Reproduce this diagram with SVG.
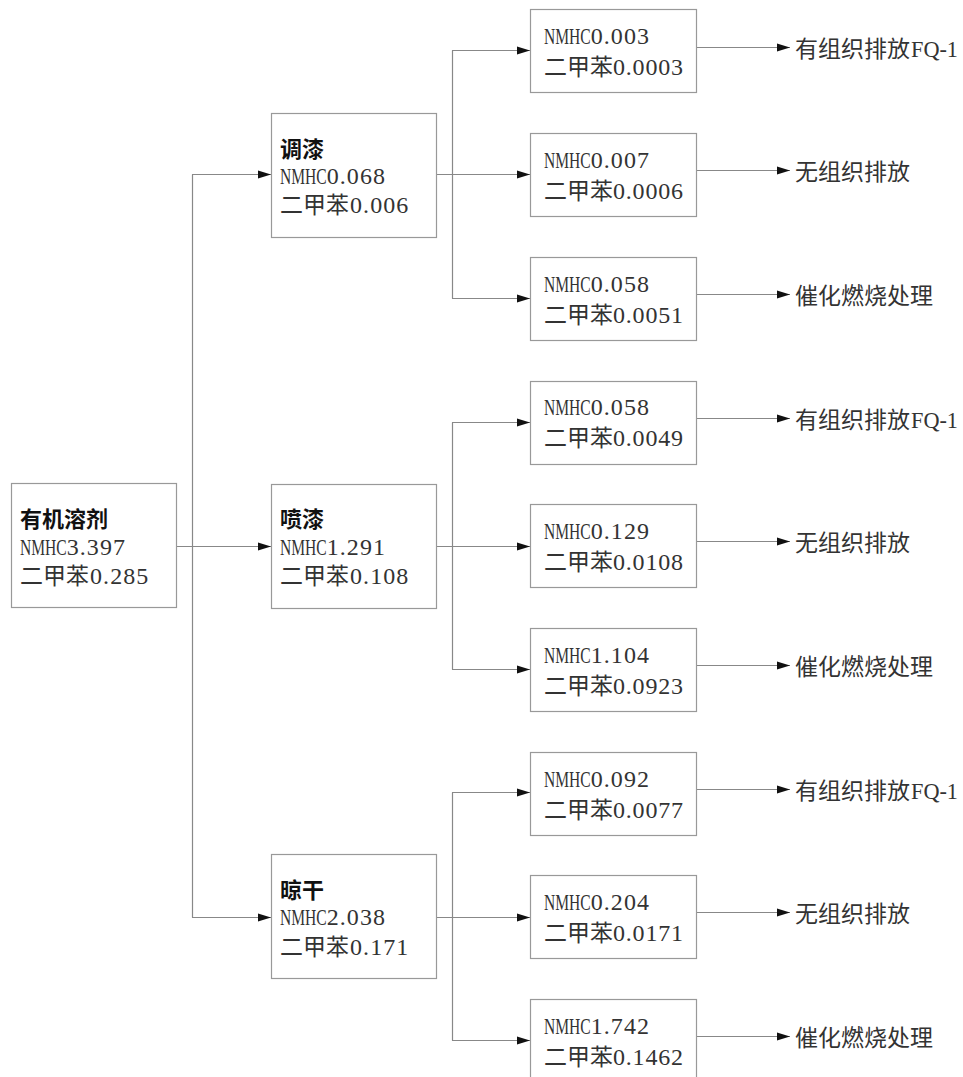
<svg xmlns="http://www.w3.org/2000/svg" width="963" height="1077" viewBox="0 0 963 1077">
<style>
.box{fill:#fff;stroke:#999;stroke-width:1.2}
.t{font-family:"Liberation Serif","Noto Sans CJK SC",serif;font-size:24px;fill:#333}
.k{font-family:"Noto Sans CJK SC",sans-serif;font-size:23px}
.h{font-family:"Noto Sans CJK SC",sans-serif;font-size:22px;font-weight:bold;fill:#111}
.c{fill:none;stroke:#888;stroke-width:1.2}
.a{marker-end:url(#arr)}
</style>
<defs>
<marker id="arr" markerUnits="userSpaceOnUse" markerWidth="14" markerHeight="9" refX="13" refY="4.5" orient="auto">
<path d="M0,0.5 L13,4.5 L0,8.5 z" fill="#111"/>
</marker>
</defs>
<rect width="963" height="1077" fill="#fff"/>
<g id="connectors">
<path class="c a" d="M176,546.5 H271"/>
<path class="c" d="M192.5,174.5 V917.5"/>
<path class="c a" d="M192,174.5 H271"/>
<path class="c a" d="M192,917.5 H271"/>
<path class="c a" d="M436,174.5 H530"/>
<path class="c" d="M452.5,50.5 V298.5"/>
<path class="c a" d="M452,50.5 H530"/>
<path class="c a" d="M452,298.5 H530"/>
<path class="c a" d="M436,546.5 H530"/>
<path class="c" d="M452.5,422.5 V669.5"/>
<path class="c a" d="M452,422.5 H530"/>
<path class="c a" d="M452,669.5 H530"/>
<path class="c a" d="M436,917.5 H530"/>
<path class="c" d="M452.5,792.5 V1040.5"/>
<path class="c a" d="M452,792.5 H530"/>
<path class="c a" d="M452,1040.5 H530"/>
<path class="c a" d="M696,47.5 H790"/>
<path class="c a" d="M696,170.5 H790"/>
<path class="c a" d="M696,294.5 H790"/>
<path class="c a" d="M696,418.5 H790"/>
<path class="c a" d="M696,541.5 H790"/>
<path class="c a" d="M696,665.5 H790"/>
<path class="c a" d="M696,789.5 H790"/>
<path class="c a" d="M696,912.5 H790"/>
<path class="c a" d="M696,1036.5 H790"/>
</g>
<g id="n-solvent">
<rect class="box" x="11.5" y="483.5" width="165" height="124"/>
<text class="h" x="20" y="527">有机溶剂</text>
<text class="t" y="555"><tspan x="20" textLength="46.7" lengthAdjust="spacingAndGlyphs">NMHC</tspan><tspan x="66.7" textLength="58.3">3.397</tspan></text>
<text class="t" y="584"><tspan class="k" x="20">二甲苯</tspan><tspan x="90" textLength="58.3">0.285</tspan></text>
</g>
<g id="n-tiaoqi">
<rect class="box" x="271.5" y="113.5" width="165" height="124"/>
<text class="h" x="280" y="157">调漆</text>
<text class="t" y="184"><tspan x="280" textLength="46.7" lengthAdjust="spacingAndGlyphs">NMHC</tspan><tspan x="326.7" textLength="58.3">0.068</tspan></text>
<text class="t" y="213"><tspan class="k" x="280">二甲苯</tspan><tspan x="350" textLength="58.3">0.006</tspan></text>
</g>
<g id="n-penqi">
<rect class="box" x="271.5" y="484.5" width="165" height="124"/>
<text class="h" x="280" y="527">喷漆</text>
<text class="t" y="555"><tspan x="280" textLength="46.7" lengthAdjust="spacingAndGlyphs">NMHC</tspan><tspan x="326.7" textLength="58.3">1.291</tspan></text>
<text class="t" y="584"><tspan class="k" x="280">二甲苯</tspan><tspan x="350" textLength="58.3">0.108</tspan></text>
</g>
<g id="n-lianggan">
<rect class="box" x="271.5" y="854.5" width="165" height="124"/>
<text class="h" x="280" y="898">晾干</text>
<text class="t" y="925"><tspan x="280" textLength="46.7" lengthAdjust="spacingAndGlyphs">NMHC</tspan><tspan x="326.7" textLength="58.3">2.038</tspan></text>
<text class="t" y="955"><tspan class="k" x="280">二甲苯</tspan><tspan x="350" textLength="58.3">0.171</tspan></text>
</g>
<g id="n-t1">
<rect class="box" x="530.5" y="9.5" width="166" height="83"/>
<text class="t" y="44"><tspan x="544" textLength="46.7" lengthAdjust="spacingAndGlyphs">NMHC</tspan><tspan x="590.7" textLength="58.3">0.003</tspan></text>
<text class="t" y="75"><tspan class="k" x="544">二甲苯</tspan><tspan x="613" textLength="70">0.0003</tspan></text>
</g>
<g id="n-t2">
<rect class="box" x="530.5" y="133.5" width="166" height="83"/>
<text class="t" y="168"><tspan x="544" textLength="46.7" lengthAdjust="spacingAndGlyphs">NMHC</tspan><tspan x="590.7" textLength="58.3">0.007</tspan></text>
<text class="t" y="199"><tspan class="k" x="544">二甲苯</tspan><tspan x="613" textLength="70">0.0006</tspan></text>
</g>
<g id="n-t3">
<rect class="box" x="530.5" y="257.5" width="166" height="83"/>
<text class="t" y="292"><tspan x="544" textLength="46.7" lengthAdjust="spacingAndGlyphs">NMHC</tspan><tspan x="590.7" textLength="58.3">0.058</tspan></text>
<text class="t" y="323"><tspan class="k" x="544">二甲苯</tspan><tspan x="613" textLength="70">0.0051</tspan></text>
</g>
<g id="n-p1">
<rect class="box" x="530.5" y="381.5" width="166" height="83"/>
<text class="t" y="415"><tspan x="544" textLength="46.7" lengthAdjust="spacingAndGlyphs">NMHC</tspan><tspan x="590.7" textLength="58.3">0.058</tspan></text>
<text class="t" y="446"><tspan class="k" x="544">二甲苯</tspan><tspan x="613" textLength="70">0.0049</tspan></text>
</g>
<g id="n-p2">
<rect class="box" x="530.5" y="504.5" width="166" height="83"/>
<text class="t" y="539"><tspan x="544" textLength="46.7" lengthAdjust="spacingAndGlyphs">NMHC</tspan><tspan x="590.7" textLength="58.3">0.129</tspan></text>
<text class="t" y="570"><tspan class="k" x="544">二甲苯</tspan><tspan x="613" textLength="70">0.0108</tspan></text>
</g>
<g id="n-p3">
<rect class="box" x="530.5" y="628.5" width="166" height="83"/>
<text class="t" y="663"><tspan x="544" textLength="46.7" lengthAdjust="spacingAndGlyphs">NMHC</tspan><tspan x="590.7" textLength="58.3">1.104</tspan></text>
<text class="t" y="694"><tspan class="k" x="544">二甲苯</tspan><tspan x="613" textLength="70">0.0923</tspan></text>
</g>
<g id="n-l1">
<rect class="box" x="530.5" y="752.5" width="166" height="83"/>
<text class="t" y="787"><tspan x="544" textLength="46.7" lengthAdjust="spacingAndGlyphs">NMHC</tspan><tspan x="590.7" textLength="58.3">0.092</tspan></text>
<text class="t" y="818"><tspan class="k" x="544">二甲苯</tspan><tspan x="613" textLength="70">0.0077</tspan></text>
</g>
<g id="n-l2">
<rect class="box" x="530.5" y="875.5" width="166" height="83"/>
<text class="t" y="910"><tspan x="544" textLength="46.7" lengthAdjust="spacingAndGlyphs">NMHC</tspan><tspan x="590.7" textLength="58.3">0.204</tspan></text>
<text class="t" y="941"><tspan class="k" x="544">二甲苯</tspan><tspan x="613" textLength="70">0.0171</tspan></text>
</g>
<g id="n-l3">
<rect class="box" x="530.5" y="999.5" width="166" height="83"/>
<text class="t" y="1034"><tspan x="544" textLength="46.7" lengthAdjust="spacingAndGlyphs">NMHC</tspan><tspan x="590.7" textLength="58.3">1.742</tspan></text>
<text class="t" y="1065"><tspan class="k" x="544">二甲苯</tspan><tspan x="613" textLength="70">0.1462</tspan></text>
</g>
<g id="outputs">
<text class="t" y="57"><tspan class="k" x="795">有组织排放</tspan><tspan x="911" textLength="47" lengthAdjust="spacingAndGlyphs">FQ-1</tspan></text>
<text class="t k" x="795" y="180">无组织排放</text>
<text class="t k" x="795" y="304">催化燃烧处理</text>
<text class="t" y="428"><tspan class="k" x="795">有组织排放</tspan><tspan x="911" textLength="47" lengthAdjust="spacingAndGlyphs">FQ-1</tspan></text>
<text class="t k" x="795" y="551">无组织排放</text>
<text class="t k" x="795" y="675">催化燃烧处理</text>
<text class="t" y="799"><tspan class="k" x="795">有组织排放</tspan><tspan x="911" textLength="47" lengthAdjust="spacingAndGlyphs">FQ-1</tspan></text>
<text class="t k" x="795" y="922">无组织排放</text>
<text class="t k" x="795" y="1046">催化燃烧处理</text>
</g>
</svg>
